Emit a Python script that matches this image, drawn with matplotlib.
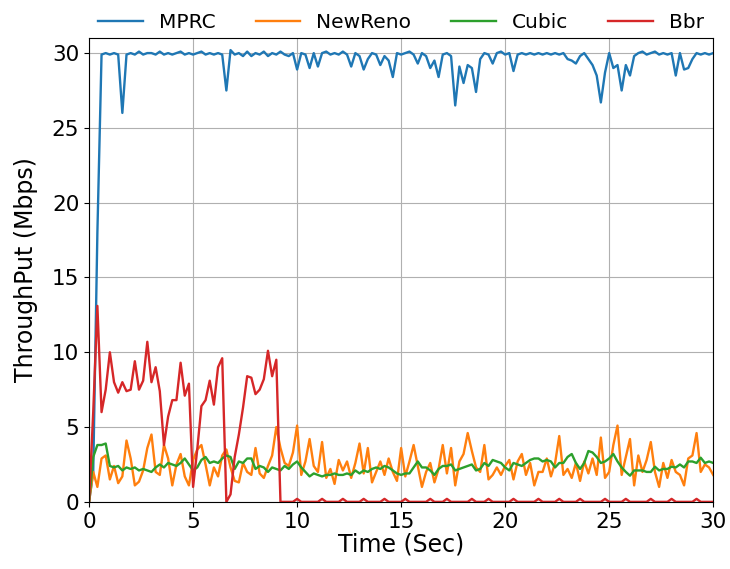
import numpy as np
import matplotlib
matplotlib.use("Agg")
import matplotlib.pyplot as plt

# sample time, one reading every 0.2 sec
time = np.arange(151) * 0.2

mprc = [0, 2, 18, 29.9, 30.0, 29.9, 30.0, 29.9, 26.0, 29.9,
        30.0, 29.9, 30.1, 29.9, 30.0, 30.0, 29.9, 30.1, 29.9, 30.0,
        29.9, 30.0, 30.1, 29.9, 30.0, 29.9, 30.0, 30.1, 29.9, 30.0,
        29.9, 30.0, 29.9, 27.5, 30.2, 29.9, 30.0, 29.8, 30.1, 29.8,
        30.0, 29.9, 30.1, 29.8, 30.0, 29.9, 30.1, 29.9, 29.8, 30.0,
        28.9, 30.0, 29.9, 29.0, 30.0, 29.1, 30.0, 30.1, 29.9, 30.0,
        29.9, 30.1, 29.9, 29.1, 30.0, 29.8, 28.9, 29.6, 30.0, 29.9,
        29.2, 29.8, 29.5, 28.4, 30.0, 29.9, 30.0, 30.1, 29.9, 29.3,
        30.0, 29.8, 29.0, 29.5, 28.4, 29.9, 30.0, 29.8, 26.5, 29.1,
        28.0, 29.2, 29.0, 27.4, 29.6, 30.0, 29.9, 29.3, 30.0, 30.1,
        29.9, 30.0, 28.8, 29.9, 30.0, 29.9, 30.0, 29.9, 30.0, 29.9,
        30.0, 29.9, 30.0, 29.9, 30.0, 29.6, 29.5, 29.3, 29.8, 30.0,
        29.6, 29.2, 28.5, 26.7, 28.7, 30.0, 29.0, 29.2, 27.5, 29.2,
        28.5, 29.8, 30.0, 30.1, 29.9, 30.0, 30.1, 29.9, 30.0, 29.9,
        30.0, 28.5, 30.0, 28.9, 29.0, 29.6, 30.0, 29.9, 30.0, 29.9,
        30.0]

newreno = [0, 2.0, 1.0, 2.9, 3.1, 1.5, 2.4, 1.25, 1.7, 4.1,
           2.9, 1.1, 1.35, 2.1, 3.6, 4.5, 2.0, 1.8, 3.8, 2.9,
           1.1, 2.5, 3.2, 1.7, 1.1, 2.8, 3.5, 3.8, 2.5, 1.1,
           2.3, 1.7, 3.1, 3.5, 2.3, 1.4, 1.3, 2.6, 2.0, 1.8,
           3.6, 1.9, 1.6, 2.4, 3.1, 5.0, 3.6, 2.6, 2.4, 3.3,
           5.1, 1.8, 2.7, 4.2, 2.4, 2.0, 4.0, 1.6, 2.2, 1.2,
           2.8, 2.1, 2.7, 1.6, 2.6, 3.9, 1.9, 3.6, 1.3, 2.0,
           2.7, 1.8, 2.9, 2.0, 1.4, 3.6, 1.7, 2.7, 3.8, 2.4,
           1.0, 2.0, 2.6, 1.3, 2.2, 3.8, 1.9, 3.6, 1.1, 2.7,
           3.2, 4.6, 3.4, 2.3, 2.0, 3.8, 1.5, 1.8, 2.3, 1.8,
           2.4, 2.8, 1.5, 2.7, 3.2, 1.8, 2.6, 1.1, 2.0, 2.0,
           2.9, 1.7, 2.6, 4.4, 1.8, 2.2, 1.6, 2.6, 1.4, 2.7,
           1.9, 2.9, 1.8, 4.3, 1.6, 2.0, 3.8, 5.1, 1.8, 3.0,
           4.2, 1.1, 3.1, 2.0, 2.8, 4.0, 2.0, 1.0, 2.6, 1.6,
           2.8, 2.0, 1.8, 1.1, 2.9, 3.1, 4.6, 2.0, 2.5, 2.3,
           1.8]

cubic = [0, 3.0, 3.8, 3.8, 3.9, 2.4, 2.3, 2.4, 2.1, 2.3,
         2.2, 2.3, 2.1, 2.2, 2.1, 2.0, 2.3, 2.5, 2.3, 2.6,
         2.5, 2.4, 2.6, 2.9, 2.5, 2.1, 2.3, 2.8, 3.0, 2.6,
         2.7, 2.6, 2.9, 3.1, 3.0, 2.2, 2.7, 2.6, 2.9, 2.9,
         2.2, 2.4, 2.3, 2.0, 2.3, 2.2, 2.1, 2.4, 2.2, 2.5,
         2.7, 2.3, 2.0, 1.7, 1.9, 1.8, 1.7, 1.8, 1.8, 1.9,
         1.8, 1.8, 1.9, 1.8, 2.1, 1.9, 2.1, 2.0, 2.2, 2.3,
         2.2, 2.4, 2.3, 2.1, 1.9, 1.8, 1.9, 1.9, 2.3, 2.7,
         2.3, 2.3, 2.1, 1.8, 2.2, 2.4, 2.4, 2.5, 2.1, 2.2,
         2.3, 2.4, 2.5, 2.1, 2.2, 2.6, 2.4, 2.8, 2.7, 2.6,
         2.3, 2.1, 2.6, 2.5, 2.4, 2.6, 2.8, 2.9, 2.9, 2.7,
         2.8, 2.7, 2.3, 2.6, 2.6, 3.0, 3.2, 2.6, 2.2, 2.6,
         3.4, 3.3, 3.0, 2.6, 2.7, 2.9, 3.2, 2.7, 2.3, 2.0,
         1.75, 2.1, 2.1, 2.1, 2.0, 2.0, 2.35, 2.1, 2.2, 2.2,
         2.35, 2.3, 2.5, 2.3, 2.7, 2.7, 2.6, 2.95, 2.6, 2.7,
         2.6]

bbr = [0, 6.0, 13.1, 6.0, 7.5, 10.0, 8.0, 7.3, 8.0, 7.4,
       7.5, 9.4, 7.5, 8.1, 10.7, 8.0, 9.0, 7.4, 3.8, 5.7,
       6.8, 6.8, 9.3, 7.1, 7.9, 1.0, 3.5, 6.4, 6.8, 8.1,
       6.5, 9.0, 9.6, 0, 0.5, 3.0, 4.5, 6.3, 8.4, 8.3,
       7.2, 7.5, 8.2, 10.1, 8.4, 9.5, 0, 0, 0, 0,
       0.2, 0, 0, 0, 0, 0, 0.2, 0, 0, 0,
       0, 0.2, 0, 0, 0, 0, 0.2, 0, 0, 0,
       0, 0.2, 0, 0, 0, 0, 0.2, 0, 0, 0,
       0, 0, 0.2, 0, 0, 0, 0.2, 0, 0, 0,
       0, 0, 0.2, 0, 0, 0, 0.2, 0, 0, 0,
       0, 0, 0.2, 0, 0, 0, 0, 0, 0.2, 0,
       0, 0, 0, 0.2, 0, 0, 0, 0, 0.2, 0,
       0, 0, 0, 0, 0.2, 0, 0, 0, 0, 0.2,
       0, 0, 0, 0, 0, 0.2, 0, 0, 0, 0,
       0.2, 0, 0, 0, 0, 0, 0.2, 0, 0, 0,
       0]

fig = plt.figure(figsize=(7.3, 5.69), dpi=100)
ax = fig.add_axes([0.122, 0.118, 0.855, 0.815])

ax.plot(time, mprc, color="tab:blue", lw=1.7, label="MPRC")
ax.plot(time, newreno, color="tab:orange", lw=1.7, label="NewReno")
ax.plot(time, cubic, color="tab:green", lw=1.7, label="Cubic")
ax.plot(time, bbr, color="tab:red", lw=1.7, label="Bbr")

ax.set_xlim(0, 30)
ax.set_ylim(0, 31)
ax.set_xticks([0, 5, 10, 15, 20, 25, 30])
ax.set_yticks([0, 5, 10, 15, 20, 25, 30])
ax.tick_params(labelsize=15.5)
ax.grid(True)
ax.set_xlabel("Time (Sec)", fontsize=17, labelpad=1)
ax.set_ylabel("ThroughPut (Mbps)", fontsize=17, labelpad=10)

ax.legend(loc="lower center", bbox_to_anchor=(0.5, 0.995), ncol=4,
          frameon=False, fontsize=14.5, borderaxespad=0, handlelength=2.2,
          columnspacing=2.0)

fig.savefig("out.png", dpi=100)
